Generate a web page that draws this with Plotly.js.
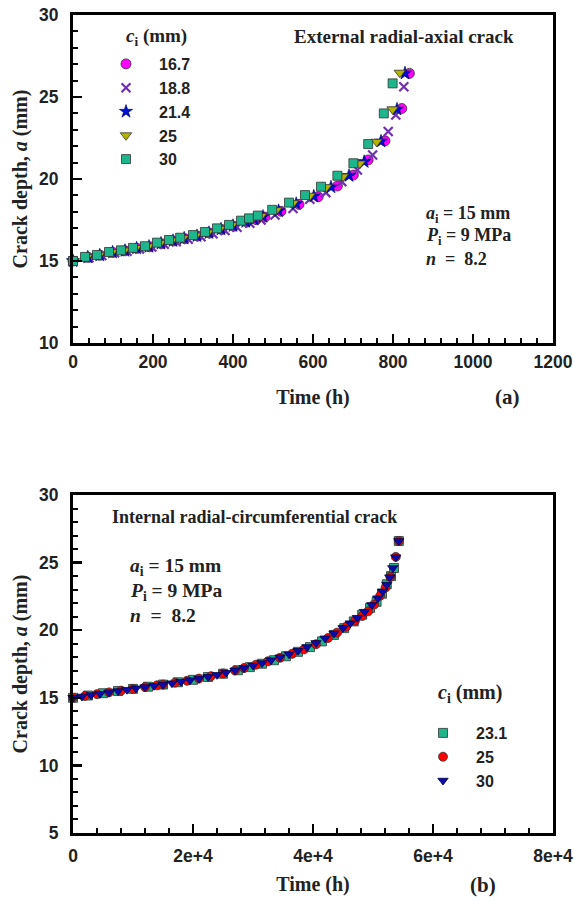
<!DOCTYPE html>
<html><head><meta charset="utf-8">
<script src="https://cdn.plot.ly/plotly-3.0.1.min.js"></script>
<style>html,body{margin:0;padding:0;background:#fff}#chart{width:574px;height:905px}</style>
</head><body><div id="chart"></div>
<script>
// ---------- Panel (a): External radial-axial crack ----------
const a_c167_t = [0, 38, 68, 100, 130, 160, 192, 222, 252, 280, 312, 342, 372, 402, 435, 458, 480, 520, 565, 613, 661, 701, 738, 780, 822, 841];
const a_c167_a = [15.0, 15.22, 15.35, 15.52, 15.62, 15.77, 15.87, 16.05, 16.22, 16.36, 16.52, 16.7, 16.92, 17.12, 17.38, 17.52, 17.68, 18.03, 18.45, 18.92, 19.57, 20.24, 21.16, 22.33, 24.3, 26.44];
const a_c188_t = [0, 40, 72, 104, 135, 166, 197, 228, 258, 288, 320, 350, 380, 410, 442, 470, 505, 550, 592, 632, 672, 711, 749, 788, 807, 827];
const a_c188_a = [15.0, 15.2, 15.33, 15.5, 15.6, 15.74, 15.85, 16.02, 16.18, 16.33, 16.48, 16.66, 16.86, 17.06, 17.3, 17.5, 17.8, 18.2, 18.76, 19.17, 19.84, 20.55, 21.46, 22.9, 23.9, 25.63];
const a_c214_t = [0, 37, 67, 99, 130, 159, 190, 220, 250, 278, 310, 340, 370, 400, 432, 453, 475, 514, 558, 602, 645, 690, 728, 770, 810, 830];
const a_c214_a = [15.0, 15.23, 15.35, 15.53, 15.63, 15.78, 15.88, 16.07, 16.23, 16.38, 16.53, 16.72, 16.94, 17.15, 17.4, 17.55, 17.71, 18.06, 18.49, 18.95, 19.5, 20.2, 21.05, 22.3, 24.25, 26.45];
const a_c25_t  = [0, 35, 65, 97, 128, 157, 188, 218, 247, 275, 307, 337, 367, 397, 428, 449, 470, 508, 550, 592, 633, 675, 717, 759, 799, 817];
const a_c25_a  = [15.0, 15.24, 15.36, 15.54, 15.64, 15.79, 15.89, 16.09, 16.25, 16.4, 16.55, 16.74, 16.96, 17.18, 17.43, 17.58, 17.74, 18.1, 18.53, 18.98, 19.5, 20.15, 20.95, 22.27, 24.25, 26.48];
const a_c30_t  = [0, 30, 60, 90, 120, 150, 180, 210, 240, 268, 300, 330, 360, 390, 420, 440, 462, 498, 540, 580, 620, 661, 701, 738, 777, 799];
const a_c30_a  = [15.0, 15.25, 15.37, 15.55, 15.65, 15.8, 15.9, 16.12, 16.28, 16.42, 16.58, 16.77, 16.99, 17.2, 17.46, 17.6, 17.77, 18.12, 18.56, 19.02, 19.53, 20.2, 20.96, 22.13, 24.0, 25.83];
const a_labels = ["16.7", "18.8", "21.4", "25", "30"];

// ---------- Panel (b): Internal radial-circumferential crack ----------
const b_c231_t = [0, 2500, 5000, 7500, 10000, 12500, 15000, 17500, 20000, 22500, 25000, 27500, 29500, 31500, 33500, 35500, 37500, 39500, 41500, 43500, 45200, 46800, 48200, 49500, 50600, 51500, 52300, 53000, 53500, 54300];
const b_c231_a = [15.0, 15.17, 15.34, 15.5, 15.66, 15.82, 15.98, 16.15, 16.33, 16.54, 16.78, 17.04, 17.27, 17.52, 17.78, 18.07, 18.4, 18.75, 19.17, 19.65, 20.15, 20.65, 21.15, 21.65, 22.1, 22.7, 23.4, 24.0, 24.6, 26.6];
const b_c25_t  = [0, 2000, 4000, 6000, 8000, 10000, 12000, 14000, 15000, 17000, 19000, 21000, 23000, 25000, 27000, 28500, 30500, 32500, 34500, 36500, 38500, 40500, 42500, 44000, 45500, 47000, 48200, 49200, 50200, 51200, 52100, 52900, 53800, 54300];
const b_c25_a  = [15.0, 15.14, 15.27, 15.4, 15.53, 15.66, 15.79, 15.92, 15.98, 16.12, 16.26, 16.42, 16.6, 16.8, 17.02, 17.2, 17.45, 17.7, 17.96, 18.25, 18.58, 18.96, 19.42, 19.82, 20.25, 20.7, 21.05, 21.4, 21.9, 22.55, 23.15, 23.95, 25.42, 26.6];
const b_c30_t  = [0, 1500, 3000, 4500, 6000, 7500, 9000, 10500, 12000, 13500, 15000, 16500, 18000, 19500, 21000, 22500, 24000, 25500, 27000, 28500, 30000, 31500, 33000, 34500, 36000, 37500, 39000, 40500, 42000, 43500, 45000, 46200, 47400, 48600, 49800, 50800, 51600, 52300, 52800, 53300, 53800, 54300];
const b_c30_a  = [15.0, 15.1, 15.2, 15.3, 15.4, 15.5, 15.6, 15.7, 15.79, 15.89, 15.98, 16.08, 16.19, 16.3, 16.42, 16.55, 16.7, 16.86, 17.03, 17.2, 17.38, 17.57, 17.78, 18.0, 18.23, 18.48, 18.76, 19.06, 19.4, 19.77, 20.17, 20.52, 20.92, 21.37, 21.87, 22.37, 22.87, 23.37, 23.92, 24.6, 25.4, 26.6];
const b_labels = ["23.1", "25", "30"];

const aTicks = [0, 200, 400, 600, 800, 1000, 1200];
const bTickVals = [0, 20000, 40000, 60000, 80000];
const bTickText = ["0", "2e+4", "4e+4", "6e+4", "8e+4"];

// ---------- helpers ----------
const W = 574, H = 905;
const px = v => v / W;
const py = v => 1 - v / H;
const SANS = "Liberation Sans, Arial, sans-serif";
const SERIF = "Liberation Serif, Times New Roman, serif";
const OUT = "#333333";

function sc(x, y, name, xa, ya, leg, marker) {
  return {x: x, y: y, name: name, type: "scatter", mode: "markers",
          xaxis: xa, yaxis: ya, legend: leg, cliponaxis: false, marker: marker};
}

const traces = [
  sc(a_c167_t, a_c167_a, a_labels[0], "x", "y", "legend",
     {symbol: "circle", size: 10, color: "#FF00FF", line: {color: OUT, width: 0.8}}),
  sc(a_c188_t, a_c188_a, a_labels[1], "x", "y", "legend",
     {symbol: "x-thin", size: 9, color: "#7030B0", line: {color: "#7030B0", width: 2.2}}),
  sc(a_c214_t, a_c214_a, a_labels[2], "x", "y", "legend",
     {symbol: "star", size: 10, color: "#0010D0", line: {color: "#000060", width: 0.6}}),
  sc(a_c25_t, a_c25_a, a_labels[3], "x", "y", "legend",
     {symbol: "triangle-down", size: 10, color: "#B4B400", line: {color: OUT, width: 0.8}}),
  sc(a_c30_t, a_c30_a, a_labels[4], "x", "y", "legend",
     {symbol: "square", size: 9, color: "#1DB58B", line: {color: OUT, width: 0.8}}),

  sc(b_c231_t, b_c231_a, b_labels[0], "x2", "y2", "legend2",
     {symbol: "square", size: 9, color: "#1DB58B", line: {color: OUT, width: 0.8}}),
  sc(b_c25_t, b_c25_a, b_labels[1], "x2", "y2", "legend2",
     {symbol: "circle", size: 9, color: "#FF0000", line: {color: OUT, width: 0.8}}),
  sc(b_c30_t, b_c30_a, b_labels[2], "x2", "y2", "legend2",
     {symbol: "triangle-down", size: 9, color: "#0A0AB0", line: {color: "#000040", width: 0.8}})
];

const tickFont = {family: SANS, size: 17.5, color: "#222", weight: "bold"};
const titleFont = {family: SERIF, size: 20, color: "#222", weight: "bold"};

function ax(extra) {
  return Object.assign({
    showline: true, linecolor: "#000", linewidth: 3, mirror: true,
    showgrid: false, zeroline: false, ticks: "inside", ticklen: 9, tickwidth: 2.5,
    tickcolor: "#000", tickfont: tickFont, automargin: false, fixedrange: true
  }, extra);
}

const xdom = [px(73), px(553)];

const legendBase = {
  xanchor: "left", yanchor: "top",
  bgcolor: "rgba(0,0,0,0)", borderwidth: 0, itemwidth: 56,
  font: {family: SANS, size: 16, color: "#222", weight: "bold"},
  itemclick: false, itemdoubleclick: false
};

const layout = {
  width: W, height: H,
  margin: {l: 0, r: 0, t: 0, b: 0},
  paper_bgcolor: "#fff", plot_bgcolor: "#fff",
  xaxis: ax({domain: xdom, anchor: "y", range: [0, 1200], tickvals: aTicks,
    minor: {dtick: 40, ticks: "inside", ticklen: 5, tickwidth: 2, tickcolor: "#000"},
    ticklabelstandoff: 1,
    title: {text: "Time (h)", font: titleFont, standoff: 19}}),
  yaxis: ax({domain: [py(343), py(15)], anchor: "x", range: [10, 30], dtick: 5,
    minor: {dtick: 1, ticks: "inside", ticklen: 5, tickwidth: 2, tickcolor: "#000"},
    ticklabelstandoff: 8,
    title: {text: "Crack depth, <i>a</i> (mm)", font: titleFont, standoff: 7}}),
  xaxis2: ax({domain: xdom, anchor: "y2", range: [0, 80000], tickvals: bTickVals, ticktext: bTickText,
    minor: {dtick: 4000, ticks: "inside", ticklen: 5, tickwidth: 2, tickcolor: "#000"},
    ticklabelstandoff: 5,
    title: {text: "Time (h)", font: titleFont, standoff: 12}}),
  yaxis2: ax({domain: [py(833), py(495)], anchor: "x2", range: [5, 30], dtick: 5,
    minor: {dtick: 1, ticks: "inside", ticklen: 5, tickwidth: 2, tickcolor: "#000"},
    ticklabelstandoff: 8,
    title: {text: "Crack depth, <i>a</i> (mm)", font: titleFont, standoff: 7}}),
  legend: Object.assign({x: px(93), y: py(47)}, legendBase),
  legend2: Object.assign({x: px(410), y: py(716)}, legendBase),
  showlegend: true,
  annotations: []
};

function note(text, x, y, size, anchor) {
  layout.annotations.push({text: text, xref: "paper", yref: "paper", x: px(x), y: py(y),
    xanchor: anchor || "left", yanchor: "middle", showarrow: false,
    font: {family: SERIF, size: size, color: "#222", weight: "bold"}});
}
// panel (a)
note("<i>c</i><sub>i</sub> (mm)", 124, 37, 19);
note("External radial-axial crack", 292, 36, 19);
note("<i>a</i><sub>i</sub> = 15 mm", 424, 214, 18);
note("<i>P</i><sub>i</sub> = 9 MPa", 424, 237, 18);
note("<i>n</i>  =  8.2", 424, 259, 18);
note("(a)", 507, 397, 21, "center");
// panel (b)
note("<i>c</i><sub>i</sub> (mm)", 436, 693, 20);
note("Internal radial-circumferential crack", 110, 517, 18);
note("<i>a</i><sub>i</sub> = 15 mm", 128, 567, 19.5);
note("<i>P</i><sub>i</sub> = 9 MPa", 128, 592, 19.5);
note("<i>n</i>  =  8.2", 128, 615, 19.5);
note("(b)", 483, 885, 21, "center");

Plotly.newPlot("chart", traces, layout, {staticPlot: true, displayModeBar: false});
</script></body></html>
